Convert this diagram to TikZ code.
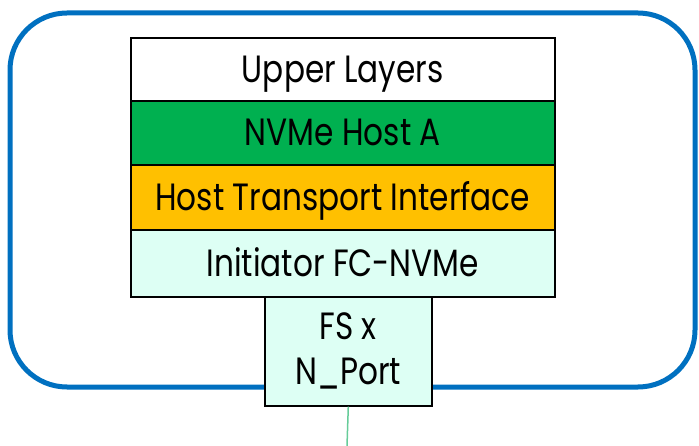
\documentclass[tikz,border=0pt]{standalone}
\usepackage{fontspec}
\setmainfont{Poppins}[FakeStretch=0.82]
\definecolor{frameblue}{RGB}{0,112,192}
\definecolor{hostgreen}{RGB}{0,176,80}
\definecolor{transorange}{RGB}{255,192,0}
\definecolor{fcmint}{RGB}{221,255,244}
\definecolor{linkgreen}{RGB}{102,204,153}
\tikzset{
  layer/.style={draw=black, line width=1.6pt, minimum width=424pt, inner sep=0pt,
    anchor=north west, font=\fontsize{38}{40}\selectfont, text=black,
    text height=26pt, text depth=0pt},
  portbox/.style={draw=black, line width=1.6pt, fill=fcmint, minimum width=167pt,
    minimum height=109pt, inner sep=0pt, anchor=north west, align=center,
    font=\fontsize{38}{45}\selectfont},
}
\begin{document}
\begin{tikzpicture}[x=1pt,y=-1pt]
  \useasboundingbox (0,0) rectangle (699,446);
  % enclosing host frame
  \draw[frameblue, line width=5pt, rounded corners=57pt] (10,13) rectangle (695,387);
  % protocol stack
  \node[layer, fill=white, minimum height=63pt] (upper) at (130,37) {Upper Layers};
  \node[layer, fill=hostgreen, minimum height=64pt] (host) at (130,100) {NVMe Host A};
  \node[layer, fill=transorange, minimum height=65pt] (trans) at (130,164) {Host Transport Interface};
  \node[layer, fill=fcmint, minimum height=67pt] (init) at (130,229) {Initiator FC-NVMe};
  \node[portbox] (port) at (264,296) {\raisebox{-3pt}{FS x}\\\raisebox{-3pt}{N\_Port}};
  % link to the fabric
  \coordinate (fabric) at (347,446);
  \draw[linkgreen, line width=1.5pt] (port.south) -- (fabric);
\end{tikzpicture}
\end{document}
